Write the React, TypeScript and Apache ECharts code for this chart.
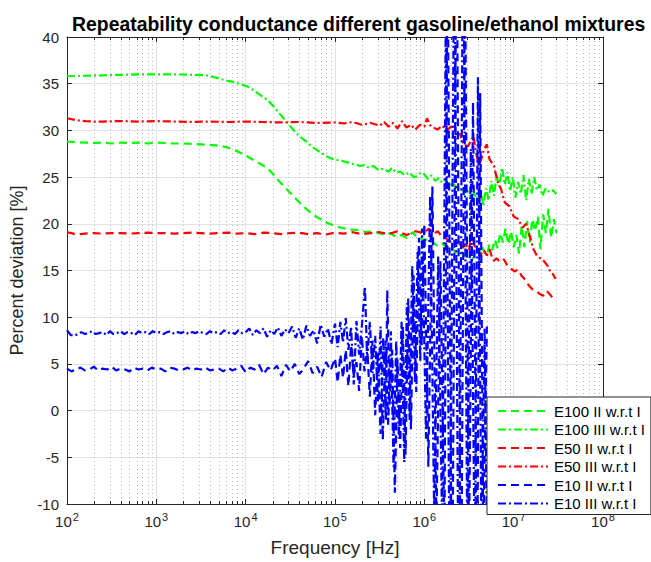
import React, { useEffect, useRef } from 'react';
import * as echarts from 'echarts';

const FONT = "'Liberation Sans', Arial, Helvetica, sans-serif";

const seriesNames = [
  'E100 II w.r.t I',
  'E100 III w.r.t I',
  'E50 II w.r.t I',
  'E50 III w.r.t I',
  'E10 II w.r.t I',
  'E10 III w.r.t I',
];

// [log10(frequency / Hz), percent deviation]
const e100II: [number, number][] = [
  [2.00, 28.8], [2.10, 28.75], [2.20, 28.7], [2.30, 28.65], [2.40, 28.7], [2.50, 28.6], [2.60, 28.7],
  [2.70, 28.65], [2.80, 28.7], [2.90, 28.6], [3.00, 28.7], [3.10, 28.65], [3.20, 28.6], [3.30, 28.6],
  [3.40, 28.55], [3.50, 28.5], [3.60, 28.45], [3.70, 28.35], [3.79, 28.2], [3.90, 27.8], [4.02, 27.2],
  [4.13, 26.6], [4.24, 26.0], [4.31, 25.3], [4.38, 24.5], [4.45, 23.8], [4.53, 23.0], [4.61, 22.2],
  [4.69, 21.5], [4.80, 20.7], [4.91, 20.1], [5.00, 19.8], [5.06, 19.6], [5.16, 19.4], [5.28, 19.3],
  [5.35, 19.1], [5.42, 19.2], [5.50, 19.0], [5.56, 18.8], [5.62, 19.0], [5.68, 18.6], [5.74, 18.8],
  [5.80, 18.5], [5.87, 19.1], [5.92, 18.5], [5.97, 18.4], [6.00, 18.2], [6.05, 18.4], [6.10, 18.0],
  [6.15, 17.6], [6.20, 17.9], [6.25, 17.5], [6.30, 17.6], [6.35, 16.9], [6.40, 17.2], [6.45, 16.6],
  [6.50, 16.4], [6.55, 16.3], [6.58, 17.2], [6.61, 16.8], [6.64, 17.7], [6.67, 17.0], [6.70, 16.6],
  [6.73, 17.8], [6.76, 17.2], [6.79, 18.3], [6.82, 17.4], [6.85, 19.0], [6.88, 18.0], [6.91, 19.5],
  [6.94, 17.8], [6.97, 19.2], [7.00, 17.5], [7.03, 18.8], [7.06, 16.8], [7.09, 19.8], [7.12, 17.5],
  [7.15, 20.3], [7.18, 18.0], [7.21, 20.5], [7.24, 19.2], [7.27, 20.8], [7.30, 17.3], [7.33, 21.0],
  [7.36, 19.0], [7.39, 21.6], [7.42, 18.5], [7.45, 20.5], [7.48, 19.0],
];

const e100III: [number, number][] = [
  [2.00, 35.8], [2.20, 35.85], [2.40, 35.9], [2.60, 35.95], [2.80, 36.0], [3.00, 36.0], [3.20, 36.0],
  [3.40, 35.95], [3.55, 35.9], [3.63, 35.75], [3.72, 35.5], [3.80, 35.3], [3.86, 35.2], [3.94, 34.95],
  [4.02, 34.7], [4.09, 34.3], [4.16, 33.8], [4.24, 33.3], [4.31, 32.6], [4.38, 31.8], [4.46, 30.9],
  [4.53, 30.1], [4.60, 29.4], [4.68, 28.8], [4.75, 28.2], [4.83, 27.7], [4.91, 27.2], [4.98, 26.9],
  [5.05, 26.8], [5.13, 26.6], [5.20, 26.4], [5.28, 26.2], [5.33, 26.3], [5.38, 26.0], [5.43, 26.2],
  [5.48, 25.8], [5.54, 25.9], [5.60, 25.6], [5.64, 26.0], [5.68, 25.5], [5.73, 25.6], [5.78, 25.2],
  [5.83, 25.5], [5.88, 25.0], [5.92, 25.1], [5.96, 25.5], [6.00, 25.3], [6.04, 24.8], [6.08, 25.2],
  [6.12, 24.6], [6.16, 24.9], [6.20, 24.4], [6.24, 24.7], [6.28, 24.0], [6.32, 24.4], [6.36, 23.8],
  [6.40, 23.9], [6.44, 23.2], [6.48, 23.6], [6.52, 22.8], [6.56, 23.3], [6.60, 22.2], [6.63, 23.5],
  [6.66, 21.9], [6.69, 23.8], [6.72, 22.5], [6.75, 24.6], [6.78, 23.0], [6.81, 25.2], [6.84, 24.0],
  [6.87, 26.0], [6.90, 24.2], [6.93, 25.5], [6.96, 23.5], [6.99, 25.0], [7.02, 22.8], [7.05, 24.5],
  [7.08, 23.2], [7.11, 25.2], [7.14, 22.5], [7.17, 24.8], [7.20, 23.2], [7.23, 25.0], [7.26, 23.6],
  [7.29, 24.2], [7.32, 23.0], [7.36, 23.8], [7.40, 23.4], [7.44, 23.6], [7.48, 23.2],
];

const e50II: [number, number][] = [
  [2.00, 19.1], [2.05, 19.0], [2.10, 18.85], [2.15, 18.9], [2.20, 18.95], [2.30, 19.0], [2.40, 18.95],
  [2.50, 19.0], [2.60, 19.0], [2.70, 18.95], [2.80, 19.0], [2.90, 19.05], [3.00, 19.0], [3.10, 19.0],
  [3.20, 18.95], [3.30, 19.0], [3.40, 19.05], [3.50, 19.0], [3.60, 18.95], [3.70, 19.0], [3.80, 19.05],
  [3.90, 18.95], [4.00, 19.0], [4.10, 18.9], [4.20, 19.05], [4.30, 19.0], [4.40, 18.9], [4.50, 19.0],
  [4.60, 19.05], [4.70, 18.9], [4.80, 19.0], [4.90, 18.85], [5.00, 19.05], [5.10, 18.95], [5.20, 19.1],
  [5.30, 18.9], [5.40, 19.0], [5.50, 19.1], [5.60, 18.9], [5.70, 19.2], [5.80, 18.8], [5.90, 19.2],
  [6.00, 19.0], [6.05, 19.5], [6.10, 18.9], [6.15, 19.2], [6.20, 18.6], [6.25, 18.4], [6.30, 18.0],
  [6.34, 17.8], [6.38, 18.1], [6.42, 17.3], [6.46, 17.8], [6.50, 17.1], [6.53, 19.1], [6.56, 17.7],
  [6.60, 17.2], [6.63, 16.6], [6.66, 17.3], [6.70, 16.6], [6.73, 17.3], [6.77, 16.0], [6.81, 16.3],
  [6.85, 15.9], [6.89, 16.2], [6.93, 15.5], [6.97, 15.2], [7.01, 14.9], [7.05, 15.1], [7.09, 14.4],
  [7.13, 14.0], [7.17, 13.4], [7.21, 13.0], [7.25, 12.8], [7.29, 12.5], [7.33, 12.3], [7.37, 12.8],
  [7.41, 12.4], [7.44, 12.0], [7.47, 11.8],
];

const e50III: [number, number][] = [
  [2.00, 31.3], [2.10, 31.1], [2.20, 31.0], [2.30, 30.95], [2.40, 30.95], [2.60, 31.0], [2.80, 30.95],
  [3.00, 31.0], [3.20, 30.95], [3.40, 30.9], [3.60, 30.95], [3.80, 30.9], [4.00, 30.95], [4.20, 30.9],
  [4.40, 30.85], [4.60, 30.9], [4.80, 30.8], [5.00, 30.85], [5.10, 30.75], [5.20, 30.9], [5.30, 30.6],
  [5.40, 30.8], [5.50, 30.5], [5.55, 30.9], [5.60, 30.4], [5.65, 30.8], [5.70, 30.2], [5.75, 31.0],
  [5.80, 30.3], [5.85, 30.6], [5.90, 30.1], [5.95, 30.6], [6.00, 30.4], [6.03, 31.3], [6.06, 30.6],
  [6.10, 30.3], [6.15, 30.1], [6.20, 30.5], [6.25, 30.0], [6.30, 30.4], [6.35, 29.6], [6.40, 29.6],
  [6.43, 28.7], [6.46, 28.4], [6.49, 28.3], [6.52, 28.9], [6.55, 29.4], [6.58, 27.6], [6.61, 26.2],
  [6.64, 27.0], [6.67, 28.0], [6.70, 28.5], [6.73, 26.9], [6.78, 26.2], [6.82, 24.5], [6.86, 23.7],
  [6.90, 22.3], [6.95, 21.9], [7.00, 20.8], [7.05, 20.5], [7.10, 19.6], [7.14, 20.0], [7.18, 18.7],
  [7.22, 17.3], [7.26, 16.6], [7.30, 16.3], [7.34, 16.0], [7.38, 15.5], [7.41, 14.9], [7.44, 14.6],
  [7.47, 14.1],
];

const e10II: [number, number][] = [
  [2.00, 4.5], [2.05, 4.2], [2.10, 4.4], [2.15, 4.6], [2.20, 4.3], [2.25, 4.4], [2.30, 4.7], [2.35, 4.3],
  [2.40, 4.5], [2.45, 4.4], [2.50, 4.7], [2.55, 4.3], [2.60, 4.5], [2.65, 4.4], [2.70, 4.2], [2.75, 4.6],
  [2.80, 4.4], [2.85, 4.5], [2.90, 4.3], [2.95, 4.6], [3.00, 4.4], [3.05, 4.5], [3.10, 4.2], [3.15, 4.6],
  [3.20, 4.5], [3.25, 4.3], [3.30, 4.4], [3.35, 4.6], [3.40, 4.3], [3.45, 4.5], [3.50, 4.4], [3.55, 4.6],
  [3.60, 4.3], [3.65, 4.4], [3.70, 4.5], [3.75, 4.2], [3.80, 4.6], [3.85, 4.3], [3.90, 4.5], [3.95, 4.8],
  [4.00, 4.1], [4.05, 4.6], [4.10, 4.4], [4.15, 4.9], [4.20, 3.9], [4.25, 4.6], [4.30, 4.3], [4.35, 4.8],
  [4.40, 3.7], [4.45, 4.9], [4.50, 4.2], [4.55, 5.0], [4.60, 3.9], [4.65, 4.5], [4.70, 5.3], [4.75, 4.0],
  [4.80, 4.7], [4.85, 3.6], [4.90, 5.2], [4.95, 4.3], [5.00, 5.6], [5.03, 3.0], [5.06, 6.0], [5.09, 3.5],
  [5.12, 6.5], [5.15, 2.6], [5.18, 7.0], [5.21, 3.8], [5.24, 5.2], [5.27, 2.1], [5.30, 8.0], [5.33, 4.2],
  [5.36, 6.8], [5.39, 1.5], [5.42, 7.5], [5.45, -0.5], [5.48, 6.2], [5.51, -2.5], [5.54, 7.8], [5.57, -1.0],
  [5.585, 12.9], [5.61, 0.5], [5.64, 6.5], [5.67, -8.8], [5.70, 5.5], [5.73, -4.0], [5.76, 9.0], [5.79, -4.7],
  [5.82, 12.0], [5.85, -2.0], [5.88, 14.5], [5.91, 2.0], [5.94, 18.5], [5.97, 7.0], [6.00, 20.0], [6.045, -6],
  [6.09, 24.0], [6.135, -12], [6.18, 16], [6.225, -14], [6.26, 50], [6.31, -25], [6.36, 55], [6.41, -25],
  [6.455, 48], [6.50, -15], [6.545, 33], [6.59, -20], [6.625, 34], [6.66, -14], [6.70, 9.0],
];

const e10III: [number, number][] = [
  [2.00, 8.6], [2.04, 8.1], [2.08, 8.0], [2.12, 8.2], [2.16, 8.4], [2.20, 8.2], [2.24, 8.3], [2.28, 8.5],
  [2.32, 8.2], [2.36, 8.3], [2.40, 8.4], [2.44, 8.1], [2.48, 8.5], [2.52, 8.2], [2.56, 8.3], [2.60, 8.5],
  [2.64, 8.2], [2.68, 8.4], [2.72, 8.3], [2.76, 8.1], [2.80, 8.5], [2.84, 8.3], [2.88, 8.4], [2.92, 8.2],
  [2.96, 8.5], [3.00, 8.3], [3.04, 8.4], [3.08, 8.2], [3.12, 8.4], [3.16, 8.5], [3.20, 8.2], [3.24, 8.4],
  [3.28, 8.3], [3.32, 8.5], [3.36, 8.2], [3.40, 8.4], [3.44, 8.3], [3.48, 8.5], [3.52, 8.3], [3.56, 8.2],
  [3.60, 8.5], [3.64, 8.3], [3.68, 8.4], [3.72, 8.2], [3.76, 8.6], [3.80, 8.3], [3.84, 8.4], [3.88, 8.2],
  [3.92, 8.6], [3.96, 8.3], [4.00, 8.4], [4.04, 8.8], [4.08, 8.1], [4.12, 8.6], [4.16, 8.3], [4.20, 8.8],
  [4.24, 7.9], [4.28, 8.6], [4.32, 8.2], [4.36, 8.9], [4.40, 8.0], [4.44, 8.7], [4.48, 8.3], [4.52, 9.0],
  [4.56, 7.8], [4.60, 8.8], [4.64, 7.6], [4.68, 9.1], [4.72, 8.0], [4.76, 8.6], [4.80, 7.2], [4.84, 9.2],
  [4.88, 7.9], [4.92, 8.8], [4.96, 7.1], [5.00, 9.3], [5.03, 6.8], [5.06, 9.5], [5.09, 7.3], [5.12, 9.9],
  [5.15, 6.5], [5.18, 9.0], [5.21, 2.8], [5.24, 9.6], [5.27, 6.0], [5.30, 9.0], [5.335, 13.3], [5.36, 5.5],
  [5.39, 9.5], [5.42, 4.0], [5.45, 8.0], [5.48, 1.0], [5.51, 9.0], [5.535, -3.2], [5.565, 7.5], [5.595, -1.5],
  [5.625, 8.5], [5.655, -6.0], [5.685, 7.5], [5.715, -3.0], [5.745, 9.5], [5.775, -5.5], [5.805, 11.5],
  [5.835, -1.0], [5.865, 15.5], [5.895, 3.0], [5.925, 17.0], [5.955, 5.3], [5.975, 19.5], [6.02, -3.0],
  [6.065, 23.0], [6.11, -11], [6.155, 16.5], [6.20, -13], [6.24, 42], [6.285, -22], [6.335, 52], [6.385, -25],
  [6.435, 55], [6.48, -14], [6.52, 28], [6.565, -18], [6.60, 35.7], [6.64, -15], [6.675, 8.8], [6.70, -13],
];

const seriesData = [e100II, e100III, e50II, e50III, e10II, e10III];
const seriesColors = ['#00ff00', '#00ff00', '#ff0000', '#ff0000', '#0000ff', '#0000ff'];
const dashed = [8, 5];
const dashDot = [8, 3, 2, 3];
const seriesDash = [dashed, dashDot, dashed, dashDot, dashed, dashDot];

const xMinExp = 2;
const xMaxExp = 8;
const yMin = -10;
const yMax = 40;
const yStep = 5;

const minorFreqs: number[] = [];
for (let e = xMinExp; e < xMaxExp; e++) {
  for (let k = 2; k <= 9; k++) minorFreqs.push(k * Math.pow(10, e));
}

export default function App() {
  const ref = useRef<HTMLDivElement>(null);
  useEffect(() => {
    document.body.style.margin = '0';
    if (!ref.current) return;
    const chart = echarts.init(ref.current, undefined, { renderer: 'svg' });
    const axisColor = '#262626';
    const labelFormatter = (v: number) => `{b|10}{s|${Math.round(Math.log10(v))}}`;
    const baseX = {
      type: 'log' as const,
      logBase: 10,
      min: Math.pow(10, xMinExp),
      max: Math.pow(10, xMaxExp),
      splitNumber: 6,
    };
    const baseY = {
      type: 'value' as const,
      min: yMin,
      max: yMax,
      interval: yStep,
    };
    const option: any = {
      animation: false,
      backgroundColor: '#ffffff',
      textStyle: { fontFamily: FONT },
      title: {
        text: 'Repeatability conductance different gasoline/ethanol mixtures',
        left: 67,
        top: 9,
        textStyle: { fontFamily: FONT, fontSize: 19.4, fontWeight: 'bold', color: '#000' },
      },
      grid: { left: 67, top: 37, right: 48, bottom: 55, containLabel: false },
      xAxis: [
        {
          ...baseX,
          position: 'bottom',
          name: 'Frequency [Hz]',
          nameLocation: 'middle',
          nameGap: 34,
          nameTextStyle: { fontFamily: FONT, fontSize: 19, color: axisColor },
          axisLine: { show: true, onZero: false, lineStyle: { color: axisColor, width: 1 } },
          axisTick: { show: true, inside: true, length: 5, lineStyle: { color: axisColor } },
          axisLabel: {
            show: true,
            margin: 7,
            formatter: labelFormatter,
            rich: {
              b: { fontFamily: FONT, fontSize: 15, color: axisColor },
              s: { fontFamily: FONT, fontSize: 11, color: axisColor, padding: [0, 0, 10, 1] },
            },
          },
          splitLine: { show: true, lineStyle: { color: '#e2e2e2', width: 1 } },
        },
        {
          ...baseX,
          position: 'top',
          axisLine: { show: true, onZero: false, lineStyle: { color: axisColor, width: 1 } },
          axisTick: { show: true, inside: true, length: 5, lineStyle: { color: axisColor } },
          axisLabel: { show: false },
          splitLine: { show: false },
        },
      ],
      yAxis: [
        {
          ...baseY,
          position: 'left',
          name: 'Percent deviation [%]',
          nameLocation: 'middle',
          nameGap: 33,
          nameTextStyle: { fontFamily: FONT, fontSize: 18, color: axisColor },
          axisLine: { show: true, onZero: false, lineStyle: { color: axisColor, width: 1 } },
          axisTick: { show: true, inside: true, length: 5, lineStyle: { color: axisColor } },
          axisLabel: { show: true, margin: 8, fontFamily: FONT, fontSize: 15, color: axisColor },
          splitLine: { show: true, lineStyle: { color: '#e2e2e2', width: 1 } },
        },
        {
          ...baseY,
          position: 'right',
          axisLine: { show: true, onZero: false, lineStyle: { color: axisColor, width: 1 } },
          axisTick: { show: true, inside: true, length: 5, lineStyle: { color: axisColor } },
          axisLabel: { show: false },
          splitLine: { show: false },
        },
      ],
      legend: {
        data: seriesNames,
        orient: 'vertical',
        left: 487,
        top: 397,
        padding: [6, 6, 3, 10],
        itemWidth: 50,
        itemHeight: 12,
        itemGap: 2.5,
        backgroundColor: '#ffffff',
        borderColor: axisColor,
        borderWidth: 1,
        borderRadius: 0,
        z: 10,
        itemStyle: { color: 'rgba(0,0,0,0)', borderWidth: 0, opacity: 0 },
        textStyle: { fontFamily: FONT, fontSize: 15, lineHeight: 16, color: '#000', padding: [0, 0, 0, 1] },
      },
      series: [
        {
          type: 'custom',
          name: 'minor-grid',
          silent: true,
          xAxisIndex: 0,
          yAxisIndex: 0,
          z: 1,
          data: minorFreqs.map((f) => [f, 0]),
          encode: { x: 0, y: 1 },
          renderItem: (_params: any, api: any) => {
            const f = api.value(0);
            const top = api.coord([f, yMax]);
            const bot = api.coord([f, yMin]);
            const x = Math.round(top[0]) + 0.5;
            return {
              type: 'group',
              children: [
                {
                  type: 'line',
                  shape: { x1: x, y1: top[1], x2: x, y2: bot[1] },
                  style: { stroke: '#b8b8b8', lineWidth: 1, lineDash: [1, 3] },
                },
                {
                  type: 'line',
                  shape: { x1: x, y1: bot[1], x2: x, y2: bot[1] - 3 },
                  style: { stroke: axisColor, lineWidth: 1 },
                },
                {
                  type: 'line',
                  shape: { x1: x, y1: top[1], x2: x, y2: top[1] + 3 },
                  style: { stroke: axisColor, lineWidth: 1 },
                },
              ],
            };
          },
        },
        ...seriesNames.map((name, i) => ({
          type: 'line',
          name,
          xAxisIndex: 0,
          yAxisIndex: 0,
          symbol: 'none',
          showSymbol: false,
          clip: true,
          z: 3 + i,
          color: seriesColors[i],
          lineStyle: { color: seriesColors[i], width: 2.2, type: seriesDash[i] },
          data: seriesData[i].map(([e, v]) => [Math.pow(10, e), v]),
        })),
      ],
    };
    chart.setOption(option);
    return () => chart.dispose();
  }, []);
  return <div ref={ref} style={{ width: 651, height: 562 }} />;
}
